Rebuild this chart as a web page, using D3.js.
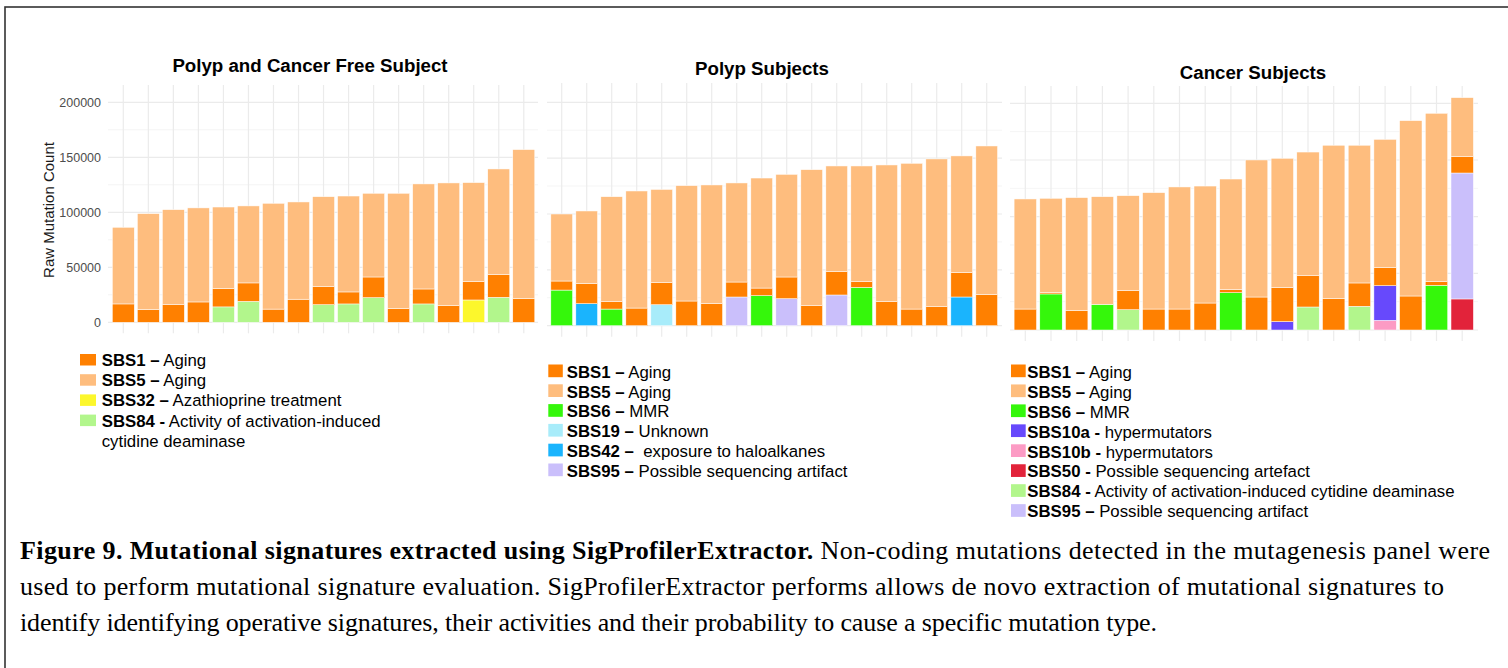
<!DOCTYPE html>
<html lang="en">
<head>
<meta charset="utf-8">
<title>Mutational signatures</title>
<script src="https://cdn.jsdelivr.net/npm/d3@7"></script>
<style>
  body { margin: 0; background: #fff; }
  svg { display: block; }
  .sans { font-family: Arial, "Liberation Sans", Helvetica, sans-serif; }
  .serif { font-family: "Times New Roman", "Liberation Serif", Times, serif; }
</style>
</head>
<body>
<script>

/////////////////// Data //////////////
// segment sizes, one value per subject (bar)
var freeSBS1  = [16700, 11500, 16000, 18500, 16600, 16800, 12000, 21000, 16700, 10900, 18800, 12400, 13600, 15200, 16700, 20900, 21500];
var freeSBS5  = [69700, 87300, 86400, 85500, 74200, 70000, 96200, 88400, 81500, 87200, 76100, 104900, 95500, 111500, 90000, 95800, 135500];
var freeSBS32 = [0, 0, 0, 0, 0, 0, 0, 0, 0, 0, 0, 0, 0, 0, 20300, 0, 0];
var freeSBS84 = [0, 0, 0, 0, 14000, 19000, 0, 0, 16000, 16700, 22400, 0, 16700, 0, 0, 22700, 0];

var polypSBS1  = [8100, 18200, 6600, 15800, 19700, 22100, 20000, 13400, 6800, 19400, 17900, 20900, 5100, 21500, 14900, 17000, 21800, 28000];
var polypSBS5  = [60000, 64800, 94000, 104800, 83500, 103300, 106000, 88700, 98500, 91900, 121800, 94600, 103600, 122400, 130500, 132300, 104500, 132900];
var polypSBS6  = [31900, 0, 14900, 0, 0, 0, 0, 0, 26900, 0, 0, 0, 34300, 0, 0, 0, 0, 0];
var polypSBS19 = [0, 0, 0, 0, 18800, 0, 0, 0, 0, 0, 0, 0, 0, 0, 0, 0, 0, 0];
var polypSBS42 = [0, 19700, 0, 0, 0, 0, 0, 0, 0, 0, 0, 0, 0, 0, 0, 0, 25700, 0];
var polypSBS95 = [0, 0, 0, 0, 0, 0, 0, 25700, 0, 24200, 0, 27500, 0, 0, 0, 0, 0, 0];

var cancerSBS1   = [18500, 1400, 17100, 0, 16800, 18500, 18500, 23800, 2700, 29100, 30000, 27600, 27900, 20600, 16200, 30000, 3500, 14400];
var cancerSBS5   = [97100, 83000, 99700, 95000, 83800, 102700, 107700, 103200, 97600, 120900, 114100, 109100, 135100, 121500, 112900, 154700, 148300, 52100];
var cancerSBS6   = [0, 31800, 0, 22600, 0, 0, 0, 0, 32900, 0, 0, 0, 0, 0, 0, 0, 39400, 0];
var cancerSBS10a = [0, 0, 0, 0, 0, 0, 0, 0, 0, 0, 7400, 0, 0, 0, 30600, 0, 0, 0];
var cancerSBS10b = [0, 0, 0, 0, 0, 0, 0, 0, 0, 0, 0, 0, 0, 0, 8500, 0, 0, 0];
var cancerSBS50  = [0, 0, 0, 0, 0, 0, 0, 0, 0, 0, 0, 0, 0, 0, 0, 0, 0, 27400];
var cancerSBS84  = [0, 0, 0, 0, 17900, 0, 0, 0, 0, 0, 0, 20300, 0, 20900, 0, 0, 0, 0];
var cancerSBS95  = [0, 0, 0, 0, 0, 0, 0, 0, 0, 0, 0, 0, 0, 0, 0, 0, 0, 111100];

var yTicks = [0, 50000, 100000, 150000, 200000];
var yMinor = [25000, 75000, 125000, 175000];

// legend labels: [signature, bold part, plain part, (second line)]
var freeLegend = [["SBS1", "SBS1 \u2013", " Aging"], ["SBS5", "SBS5 \u2013", " Aging"],
  ["SBS32", "SBS32 \u2013", " Azathioprine treatment"],
  ["SBS84", "SBS84 -", " Activity of activation-induced", "cytidine deaminase"]];
var polypLegend = [["SBS1", "SBS1 \u2013", " Aging"], ["SBS5", "SBS5 \u2013", " Aging"],
  ["SBS6", "SBS6 \u2013", " MMR"], ["SBS19", "SBS19 \u2013", " Unknown"],
  ["SBS42", "SBS42 \u2013", "  exposure to haloalkanes"],
  ["SBS95", "SBS95 \u2013", " Possible sequencing artifact"]];
var cancerLegend = [["SBS1", "SBS1 \u2013", " Aging"], ["SBS5", "SBS5 \u2013", " Aging"],
  ["SBS6", "SBS6 \u2013", " MMR"], ["SBS10a", "SBS10a -", " hypermutators"],
  ["SBS10b", "SBS10b -", " hypermutators"], ["SBS50", "SBS50 -", " Possible sequencing artefact"],
  ["SBS84", "SBS84 -", " Activity of activation-induced cytidine deaminase"],
  ["SBS95", "SBS95 \u2013", " Possible sequencing artifact"]];

var caption = [
  [["Figure 9. Mutational signatures extracted using SigProfilerExtractor.", true], [" Non-coding mutations detected in the mutagenesis panel were", false]],
  [["used to perform mutational signature evaluation. SigProfilerExtractor performs allows de novo extraction of mutational signatures to", false]],
  [["identify identifying operative signatures, their activities and their probability to cause a specific mutation type.", false]]
];
var captionWidths = [1470, 1424, 1137];

/////////////////// Style //////////////
var sigColor = {
  SBS1: "#FF8000", SBS5: "#FEBD7E", SBS32: "#FCF72C", SBS84: "#B2F68C",
  SBS6: "#35F70B", SBS19: "#A8ECFA", SBS42: "#1AB4FD", SBS95: "#CABFFB",
  SBS10a: "#6749FC", SBS10b: "#FC9BC4", SBS50: "#E2233A"
};
// bottom to top
var stackOrder = ["SBS84", "SBS6", "SBS42", "SBS19", "SBS32", "SBS50", "SBS95", "SBS10b", "SBS10a", "SBS1", "SBS5"];

var width = 1508, height = 668;

var panels = [
  { title: "Polyp and Cancer Free Subject", titleX: 310, titleY: 72,
    series: { SBS1: freeSBS1, SBS5: freeSBS5, SBS32: freeSBS32, SBS84: freeSBS84 },
    c0: 123.3, step: 25.03, bw: 22, y0: 322.3, y200: 102.3, gx0: 108, gx1: 538, vTop: 85,
    legend: freeLegend, lx: 80, sw: 16, sh: 11.5, tx: 101.7, ly: 366, lstep: 20.2 },
  { title: "Polyp Subjects", titleX: 762, titleY: 75.3,
    series: { SBS1: polypSBS1, SBS5: polypSBS5, SBS6: polypSBS6, SBS19: polypSBS19, SBS42: polypSBS42, SBS95: polypSBS95 },
    c0: 561.7, step: 25.0, bw: 21.7, y0: 325.7, y200: 102.3, gx0: 547, gx1: 1002, vTop: 83,
    legend: polypLegend, lx: 548.3, sw: 14.5, sh: 12.7, tx: 566.7, ly: 377.7, lstep: 19.8 },
  { title: "Cancer Subjects", titleX: 1253, titleY: 79.3,
    series: { SBS1: cancerSBS1, SBS5: cancerSBS5, SBS6: cancerSBS6, SBS10a: cancerSBS10a, SBS10b: cancerSBS10b,
              SBS50: cancerSBS50, SBS84: cancerSBS84, SBS95: cancerSBS95 },
    c0: 1025.3, step: 25.7, bw: 22.4, y0: 330, y200: 103.3, gx0: 1010, gx1: 1478, vTop: 86,
    legend: cancerLegend, lx: 1011, sw: 14.7, sh: 12.7, tx: 1027.3, ly: 377.7, lstep: 19.95 }
];

var svg = d3.select("body").append("svg")
  .attr("width", width)
  .attr("height", height);

// frame
svg.append("rect")
  .attr("x", 5).attr("y", 7)
  .attr("width", width + 20).attr("height", height + 20)
  .attr("fill", "none")
  .attr("stroke", "#333")
  .attr("stroke-width", 1.6);

panels.forEach(function(p, pi) {
  var keys = stackOrder.filter(function(k) { return k in p.series; });
  var n = p.series.SBS1.length;
  var subjects = d3.range(n).map(function(i) { return "S" + (i + 1); });

  var rows = subjects.map(function(s, i) {
    var r = { subject: s };
    keys.forEach(function(k) { r[k] = p.series[k][i]; });
    return r;
  });

  var pad = 1 - p.bw / p.step;
  var x = d3.scaleBand()
    .domain(subjects)
    .range([p.c0 - p.step / 2, p.c0 + (n - 0.5) * p.step])
    .paddingInner(pad)
    .paddingOuter(pad / 2);

  var y = d3.scaleLinear()
    .domain([0, 200000])
    .range([p.y0, p.y200]);

  var g = svg.append("g").attr("class", "panel");

  //============================== Grid
  g.selectAll("line.minor")
    .data(yMinor).enter().append("line")
    .attr("x1", p.gx0).attr("x2", p.gx1)
    .attr("y1", function(d) { return y(d); }).attr("y2", function(d) { return y(d); })
    .attr("stroke", "#F4F4F4").attr("stroke-width", 0.9);

  g.selectAll("line.major")
    .data(yTicks).enter().append("line")
    .attr("x1", p.gx0).attr("x2", p.gx1)
    .attr("y1", function(d) { return y(d); }).attr("y2", function(d) { return y(d); })
    .attr("stroke", "#EBEBEB").attr("stroke-width", 1.2);

  g.selectAll("line.vgrid")
    .data(subjects).enter().append("line")
    .attr("x1", function(d) { return x(d) + x.bandwidth() / 2; })
    .attr("x2", function(d) { return x(d) + x.bandwidth() / 2; })
    .attr("y1", p.vTop).attr("y2", p.y0 + 11)
    .attr("stroke", "#EBEBEB").attr("stroke-width", 1.2);

  //============================== Bars
  var stacked = d3.stack().keys(keys)(rows);

  g.selectAll("g.layer")
    .data(stacked).enter().append("g")
    .attr("fill", function(d) { return sigColor[d.key]; })
    .selectAll("rect")
    .data(function(d) { return d.filter(function(v) { return v[1] > v[0]; }); })
    .enter().append("rect")
    .attr("x", function(d) { return x(d.data.subject); })
    .attr("width", x.bandwidth())
    .attr("y", function(d) { return y(d[1]); })
    .attr("height", function(d) { return y(d[0]) - y(d[1]); })
    .attr("stroke", "#fff")
    .attr("stroke-width", 0.5);

  //============================== Title
  g.append("text")
    .attr("class", "sans")
    .attr("x", p.titleX).attr("y", p.titleY)
    .attr("text-anchor", "middle")
    .style("font-size", "18.7px")
    .style("font-weight", "bold")
    .attr("fill", "#000")
    .text(p.title);

  //============================== Y axis (first panel only)
  if (pi === 0) {
    var axis = g.append("g")
      .attr("class", "sans")
      .attr("transform", "translate(104,0)")
      .call(d3.axisLeft(y).tickValues(yTicks).tickSize(0).tickPadding(3).tickFormat(d3.format("d")));
    axis.select(".domain").remove();
    axis.selectAll("text")
      .style("font-size", "12.5px")
      .attr("fill", "#4D4D4D")
      .style("font-family", "Arial, 'Liberation Sans', sans-serif");

    g.append("text")
      .attr("class", "sans")
      .attr("transform", "translate(54,210) rotate(-90)")
      .attr("text-anchor", "middle")
      .style("font-size", "15px")
      .attr("fill", "#1a1a1a")
      .text("Raw Mutation Count");
  }

  //============================== Legend
  var lg = g.selectAll("g.legend")
    .data(p.legend).enter().append("g")
    .attr("class", "legend sans");

  lg.append("rect")
    .attr("x", p.lx)
    .attr("y", function(d, i) { return p.ly + i * p.lstep - p.sh - 0.5; })
    .attr("width", p.sw).attr("height", p.sh)
    .attr("fill", function(d) { return sigColor[d[0]]; });

  var lt = lg.append("text")
    .attr("x", p.tx)
    .attr("y", function(d, i) { return p.ly + i * p.lstep; })
    .style("font-size", "16.8px")
    .style("white-space", "pre")
    .attr("fill", "#000");
  lt.append("tspan").style("font-weight", "bold").text(function(d) { return d[1]; });
  lt.append("tspan").text(function(d) { return d[2]; });
  lt.filter(function(d) { return d.length > 3; })
    .append("tspan")
    .attr("x", p.tx).attr("dy", p.lstep)
    .text(function(d) { return d[3]; });
});

//============================== Caption
var cap = svg.append("g").attr("class", "serif");
caption.forEach(function(line, i) {
  var t = cap.append("text")
    .attr("x", 20)
    .attr("y", 559 + i * 36)
    .attr("textLength", captionWidths[i])
    .attr("lengthAdjust", "spacing")
    .style("font-size", "26px")
    .attr("fill", "#000");
  line.forEach(function(part) {
    t.append("tspan")
      .style("font-weight", part[1] ? "bold" : "normal")
      .text(part[0]);
  });
});

</script>
</body>
</html>
